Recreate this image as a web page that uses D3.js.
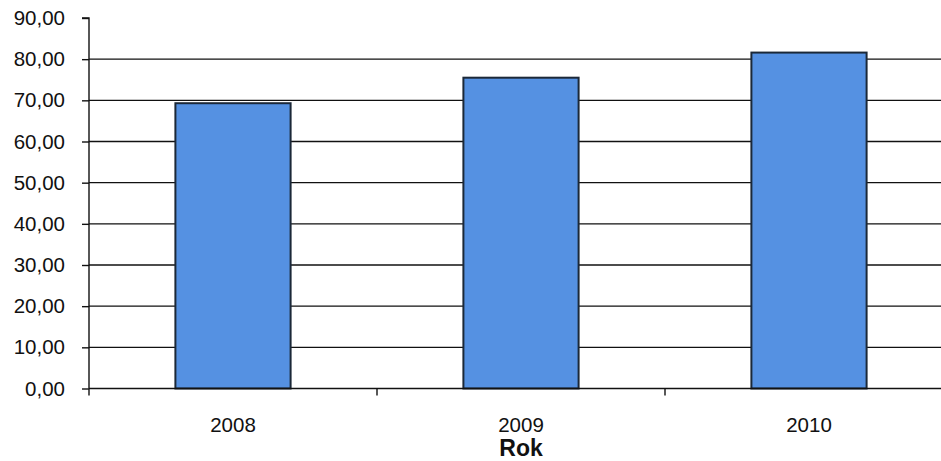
<!DOCTYPE html>
<html><head><meta charset="utf-8">
<script src="https://cdn.jsdelivr.net/npm/d3@7"></script>
<style>body{margin:0;background:#fff}svg{display:block;font-family:"Liberation Sans",Arial,sans-serif}</style>
</head><body>
<svg id="c" width="941" height="461"></svg>
<script>
const categories = ["2008", "2009", "2010"];
const values = [69.3, 75.5, 81.6];
const yTicks = [0, 10, 20, 30, 40, 50, 60, 70, 80, 90];
const xTitle = "Rok";

const svg = d3.select("#c");
const x0 = 89, x1 = 953, yTop = 18, yBot = 388.5;
const x = d3.scaleBand().domain(categories).range([x0, x1]).paddingInner(0.6).paddingOuter(0.3);
const y = d3.scaleLinear().domain([0, 90]).range([yBot, yTop]);
const fmt = v => d3.format(".2f")(v).replace(".", ",");

// gridlines (skip 0 and 90)
svg.append("g").selectAll("line").data(yTicks.filter(t => t > 0 && t < 90)).join("line")
  .attr("x1", x0).attr("x2", 941).attr("y1", d => y(d)).attr("y2", d => y(d))
  .attr("stroke", "#111").attr("stroke-width", 1.4);

// bars
svg.append("g").selectAll("rect").data(values).join("rect")
  .attr("x", (d, i) => x(categories[i]))
  .attr("width", x.bandwidth())
  .attr("y", d => y(d))
  .attr("height", d => y(0) - y(d))
  .attr("fill", "#5591e2").attr("stroke", "#1b2838").attr("stroke-width", 2);

// y axis
const ya = svg.append("g").attr("transform", `translate(${x0},0)`)
  .call(d3.axisLeft(y).tickValues(yTicks).tickFormat(fmt).tickSize(7).tickPadding(17));
ya.select(".domain").attr("stroke", "#111").attr("stroke-width", 1.4).attr("d", `M-7,${yTop}H0V${yBot}`);
ya.selectAll(".tick line").attr("stroke", "#111").attr("stroke-width", 1.4);
ya.selectAll("text").attr("font-size", 20.5).attr("fill", "#111").attr("font-family", "Liberation Sans, Arial, sans-serif");

// x axis
const xa = svg.append("g").attr("transform", `translate(0,${yBot})`);
xa.append("line").attr("x1", x0).attr("x2", 941).attr("y1", 0).attr("y2", 0).attr("stroke", "#111").attr("stroke-width", 1.6);
const bounds = [0, 1, 2, 3].map(i => x0 + i * x.step());
xa.selectAll("line.t").data(bounds).join("line").attr("class", "t")
  .attr("x1", d => d).attr("x2", d => d).attr("y1", 0).attr("y2", 7)
  .attr("stroke", "#111").attr("stroke-width", 1.4);
xa.selectAll("text").data(categories).join("text")
  .attr("x", d => x(d) + x.bandwidth() / 2).attr("y", 43)
  .attr("text-anchor", "middle").attr("font-size", 20.5).attr("fill", "#111").text(d => d);

svg.append("text").attr("x", (x(categories[1]) + x.bandwidth() / 2)).attr("y", 456)
  .attr("text-anchor", "middle").attr("font-size", 23).attr("font-weight", "bold").attr("fill", "#111").text(xTitle);
</script>
</body></html>
